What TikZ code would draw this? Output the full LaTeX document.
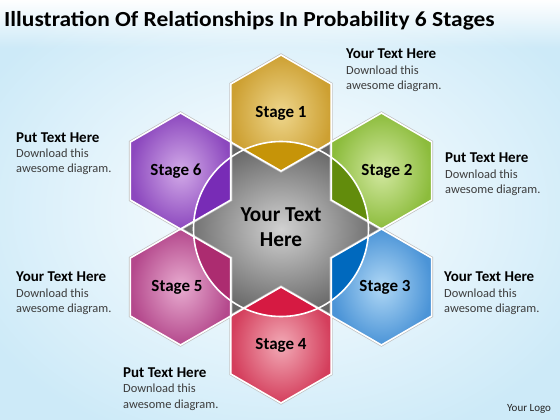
\documentclass[tikz,border=0pt]{standalone}
\usepackage{fontspec}
\usepackage{graphicx}
\setmainfont{Carlito}
\usetikzlibrary{fadings}
\definecolor{bgblue}{RGB}{205,234,248}
\definecolor{bodygray}{RGB}{60,60,60}
\definecolor{sAin}{RGB}{238,214,140}\definecolor{sAout}{RGB}{205,160,50}\definecolor{sAdk}{RGB}{198,148,8}
\definecolor{sBin}{RGB}{210,232,160}\definecolor{sBout}{RGB}{140,188,60}\definecolor{sBdk}{RGB}{98,140,12}
\definecolor{sCin}{RGB}{175,215,245}\definecolor{sCout}{RGB}{75,148,215}\definecolor{sCdk}{RGB}{0,105,190}
\definecolor{sDin}{RGB}{242,170,182}\definecolor{sDout}{RGB}{212,62,92}\definecolor{sDdk}{RGB}{214,26,66}
\definecolor{sEin}{RGB}{232,172,208}\definecolor{sEout}{RGB}{180,72,140}\definecolor{sEdk}{RGB}{172,44,112}
\definecolor{sFin}{RGB}{210,170,232}\definecolor{sFout}{RGB}{140,72,190}\definecolor{sFdk}{RGB}{120,44,182}
\newcommand\hexat[1]{([shift={(30:58)}]#1) -- ([shift={(90:58)}]#1) -- ([shift={(150:58)}]#1) -- ([shift={(210:58)}]#1) -- ([shift={(270:58)}]#1) -- ([shift={(330:58)}]#1) -- cycle}
\begin{document}
\begin{tikzpicture}[x=1pt,y=-1pt,
  titletext/.style={font=\fontsize{21.5}{24}\selectfont\bfseries, anchor=base west, inner sep=0},
  headtext/.style={font=\fontsize{15}{17}\selectfont\bfseries, anchor=base west, inner sep=0},
  bodytext/.style={font=\fontsize{12.4}{15.5}\selectfont, text=bodygray, anchor=base west, inner sep=0},
  stagetext/.style={font=\fontsize{17}{19}\selectfont\bfseries, inner sep=0},
  hexline/.style={draw=white, line width=1.6pt},
  hexshadow/.style={draw=black!25, line width=3pt}]
\useasboundingbox (0,0) rectangle (560,420);
\shade[inner color=white, outer color=bgblue] (-60,-40) rectangle (620,460);
\fill[white, path fading=south] (0,0) rectangle (560,48);
% title
\node[titletext] (title) at (4,27) {\scalebox{1.09}[1]{Illustration Of Relationships In Probability 6 Stages}};
% centre
\coordinate (C) at (281,229);
\coordinate (s1) at ([shift={(270:116)}]C);
\coordinate (s2) at ([shift={(330:116)}]C);
\coordinate (s3) at ([shift={(30:116)}]C);
\coordinate (s4) at ([shift={(90:116)}]C);
\coordinate (s5) at ([shift={(150:116)}]C);
\coordinate (s6) at ([shift={(210:116)}]C);
\shade[inner color=black!18, outer color=black!60]
  ([shift={(0:101)}]C) -- ([shift={(60:101)}]C) -- ([shift={(120:101)}]C) -- ([shift={(180:101)}]C) -- ([shift={(240:101)}]C) -- ([shift={(300:101)}]C) -- cycle;
% light hexagons
\foreach \s/\ci/\co in {s1/sAin/sAout, s2/sBin/sBout, s3/sCin/sCout, s4/sDin/sDout, s5/sEin/sEout, s6/sFin/sFout}{
  \draw[hexshadow] \hexat{\s};
  \shade[inner color=\ci, outer color=\co] \hexat{\s};
}
% overlaps with the circle
\begin{scope}
  \clip (C) circle (87.5);
  \foreach \s/\cd in {s1/sAdk, s2/sBdk, s3/sCdk, s4/sDdk, s5/sEdk, s6/sFdk}{
    \fill[\cd] \hexat{\s};
  }
\end{scope}
\draw[white, line width=1.6pt] (C) circle (87.5);
\foreach \s in {s1,s2,s3,s4,s5,s6}{
  \draw[hexline] \hexat{\s};
}
% labels
\node[stagetext] (l1) at (281,113) {Stage 1};
\node[stagetext] (l2) at (387,171) {Stage 2};
\node[stagetext] (l3) at (385,287) {Stage 3};
\node[stagetext] (l4) at (281,345) {Stage 4};
\node[stagetext] (l5) at (177,287) {Stage 5};
\node[stagetext] (l6) at (176,171) {Stage 6};
\node[font=\fontsize{21.3}{25}\selectfont\bfseries, align=center, inner sep=0, anchor=base] (ctr) at (281,246.7) {Your Text\\Here};
% side texts
\node[headtext] (h1) at (346,59) {Your Text Here};
\node[bodytext] (b1a) at (346,75) {Download this};
\node[bodytext] (b1b) at (346,90) {awesome diagram.};
\node[headtext] (h2) at (445,162) {Put Text Here};
\node[bodytext] (b2a) at (445,178) {Download this};
\node[bodytext] (b2b) at (445,193) {awesome diagram.};
\node[headtext] (h3) at (444,281) {Your Text Here};
\node[bodytext] (b3a) at (444,297) {Download this};
\node[bodytext] (b3b) at (444,312) {awesome diagram.};
\node[headtext] (h6) at (16,142.3) {Put Text Here};
\node[bodytext] (b6a) at (16,157.5) {Download this};
\node[bodytext] (b6b) at (16,172.7) {awesome diagram.};
\node[headtext] (h5) at (16,281) {Your Text Here};
\node[bodytext] (b5a) at (16,297) {Download this};
\node[bodytext] (b5b) at (16,312) {awesome diagram.};
\node[headtext] (h4) at (123,377) {Put Text Here};
\node[bodytext] (b4a) at (123,392) {Download this};
\node[bodytext] (b4b) at (123,408) {awesome diagram.};
\node[font=\fontsize{11}{13}\selectfont, anchor=base west, inner sep=0, text=black!85] (logo) at (507,411) {Your Logo};
\end{tikzpicture}
\end{document}
